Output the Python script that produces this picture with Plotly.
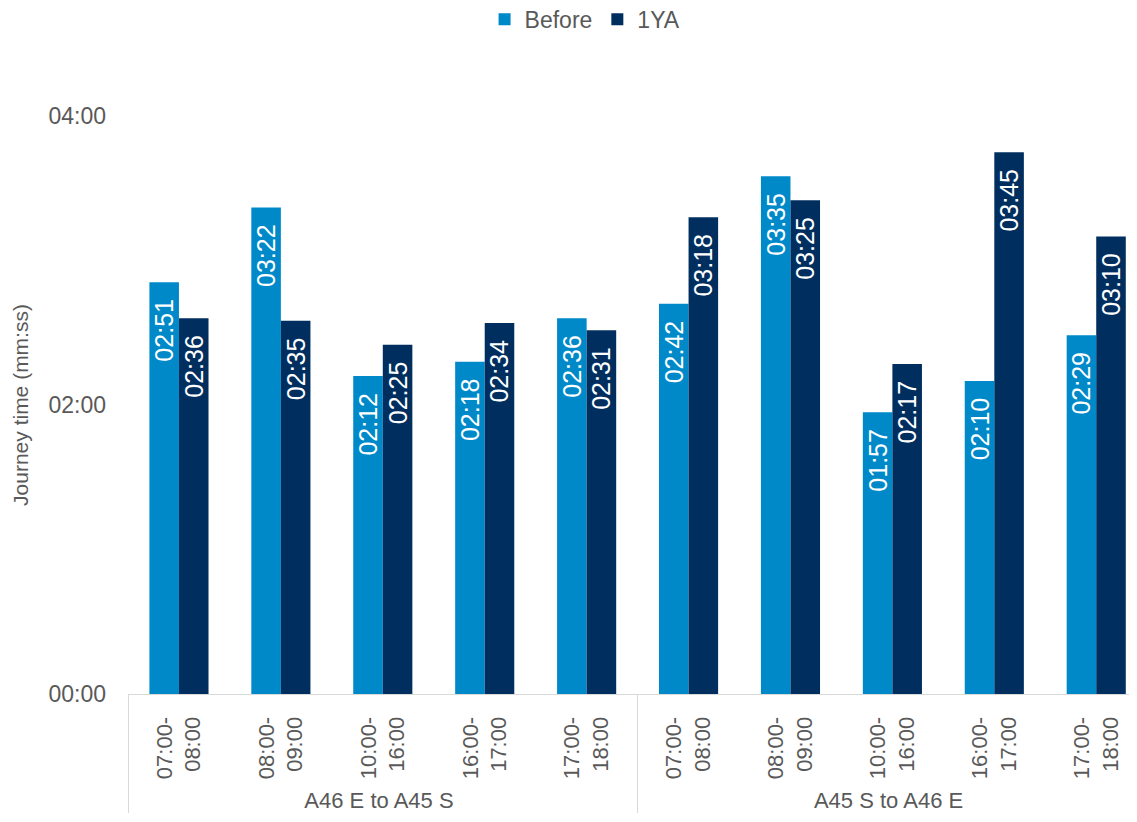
import plotly.graph_objects as go

groups = ["A46 E to A45 S"] * 5 + ["A45 S to A46 E"] * 5
periods = ["07:00-<br>08:00", "08:00-<br>09:00", "10:00-<br>16:00", "16:00-<br>17:00", "17:00-<br>18:00"] * 2
before_s = [171, 202, 132, 138, 156, 162, 215, 117, 130, 149]
oneya_s = [156, 155, 145, 154, 151, 198, 205, 137, 225, 190]
y_tickvals = [0, 120, 240]


def mmss(s):
    return f"{int(s) // 60:02d}:{int(s) % 60:02d}"


FONT = "Liberation Sans"
GREY = "#595959"

fig = go.Figure()
for name, vals, col in [("Before", before_s, "#0089C9"), ("1YA", oneya_s, "#002F5F")]:
    fig.add_trace(go.Bar(
        name=name,
        x=[groups, periods],
        y=vals,
        marker=dict(color=col, line=dict(width=0)),
        text=[mmss(v) + "\u00a0\u00a0" for v in vals],
        textposition="inside",
        insidetextanchor="end",
        textangle=-90,
        textfont=dict(color="white", size=25, family=FONT),
        hoverinfo="skip",
    ))

# page body has an 8px offset, so the figure is 8px smaller than the window
fig.update_layout(
    width=1129, height=814,
    margin=dict(l=120, r=0, t=108, b=128, autoexpand=False),
    paper_bgcolor="white", plot_bgcolor="white",
    barmode="group", bargap=0.42, bargroupgap=0,
    uniformtext=dict(minsize=25, mode="show"),
    font=dict(family=FONT, color=GREY, size=21),
    legend=dict(orientation="h", x=0.453, xanchor="center", y=0.986, yanchor="middle",
                yref="container", font=dict(size=23, color=GREY, family=FONT),
                itemwidth=30, traceorder="normal"),
    showlegend=True,
)
fig.update_xaxes(
    type="multicategory", range=[-0.5, 9.4], tickangle=-90, showline=True,
    linecolor="#D9D9D9", linewidth=1,
    showdividers=True, dividercolor="#D9D9D9", dividerwidth=1,
    tickfont=dict(size=22, color=GREY, family=FONT), ticks="", automargin=False,
    ticklabelstandoff=13,
)
fig.update_yaxes(
    range=[0, 240], tickvals=y_tickvals, ticktext=[mmss(v) for v in y_tickvals],
    showgrid=False, zeroline=False, showline=False, automargin=False,
    tickfont=dict(size=23, color=GREY, family=FONT), ticklabelstandoff=21,
    title=dict(text="Journey time (mm:ss)", font=dict(size=21, color=GREY, family=FONT), standoff=14),
)
fig.write_html("out.html")
